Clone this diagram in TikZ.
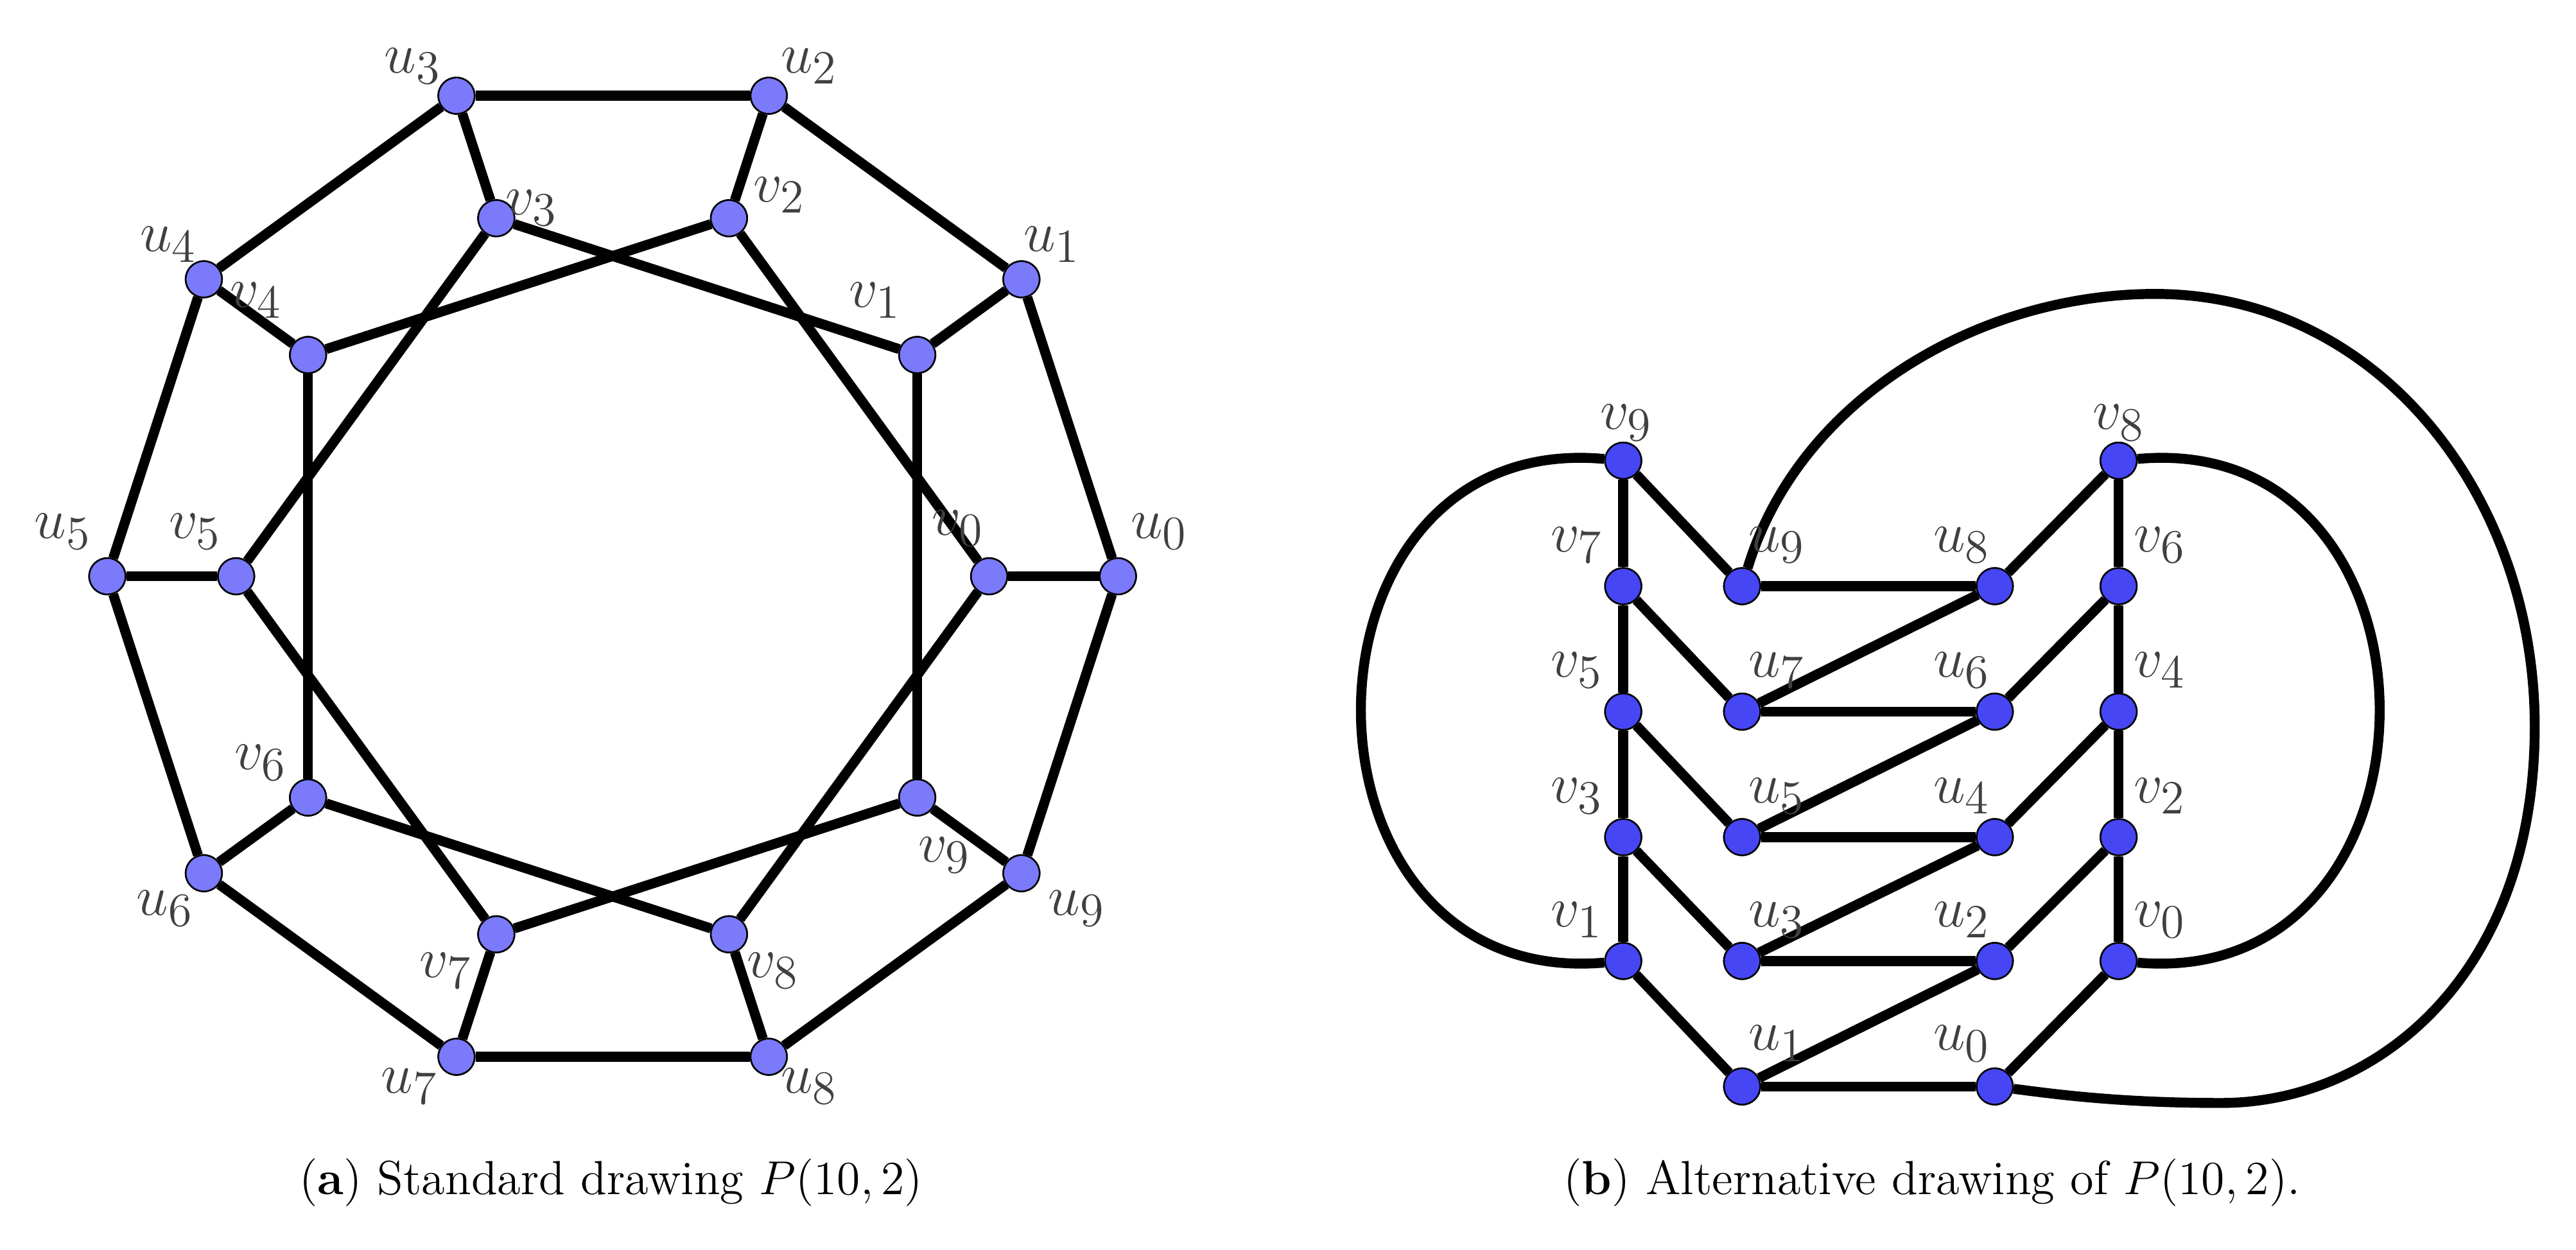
\documentclass[tikz,border=0pt]{standalone}
\begin{document}
\begin{tikzpicture}[x=0.5pt,y=-0.5pt,
  edge/.style={line width=3pt,line join=round},
  va/.style={circle,draw=black,line width=0.5pt,fill={rgb,255:red,122;green,122;blue,250},minimum size=11pt,inner sep=0pt},
  vb/.style={circle,draw=black,line width=0.5pt,fill={rgb,255:red,70;green,70;blue,245},minimum size=11pt,inner sep=0pt},
  lab/.style={text={rgb,255:red,64;green,64;blue,64},font=\fontsize{19}{21}\selectfont,inner sep=0pt},
  captxt/.style={font=\fontsize{14.5}{17}\selectfont}]
\useasboundingbox (0,0) rectangle (1560,757);
% (a)
\foreach \k in {0,...,9}{
  \node[va] (u\k) at ({371+306*cos(36*\k)},{349-306*sin(36*\k)}) {};
  \node[va] (v\k) at ({371+228*cos(36*\k)},{349-228*sin(36*\k)}) {};
}
\foreach \k [evaluate=\k as \n using {int(mod(\k+1,10))}, evaluate=\k as \m using {int(mod(\k+2,10))}] in {0,...,9}{
  \draw[edge] (u\k) -- (u\n);
  \draw[edge] (u\k) -- (v\k);
  \draw[edge] (v\k) -- (v\m);
}
\foreach \k in {0,...,9}{
  \node[va] at (u\k) {};
  \node[va] at (v\k) {};
}
\node[lab] (lu0) at (702,322) {$u_0$};
\node[lab] (lu1) at (637,148) {$u_1$};
\node[lab] (lu2) at (490,40) {$u_2$};
\node[lab] (lu3) at (250,40) {$u_3$};
\node[lab] (lu4) at (102,148) {$u_4$};
\node[lab] (lu5) at (38,322) {$u_5$};
\node[lab] (lu6) at (100,550) {$u_6$};
\node[lab] (lu7) at (248,658) {$u_7$};
\node[lab] (lu8) at (490,658) {$u_8$};
\node[lab] (lu9) at (652,550) {$u_9$};
\node[lab] (lv0) at (580,320) {$v_0$};
\node[lab] (lv1) at (530,182) {$v_1$};
\node[lab] (lv2) at (472,118) {$v_2$};
\node[lab] (lv3) at (322,126) {$v_3$};
\node[lab] (lv4) at (155,182) {$v_4$};
\node[lab] (lv5) at (118,322) {$v_5$};
\node[lab] (lv6) at (158,462) {$v_6$};
\node[lab] (lv7) at (270,588) {$v_7$};
\node[lab] (lv8) at (468,588) {$v_8$};
\node[lab] (lv9) at (572,518) {$v_9$};
\node[captxt] (capa) at (370,716) {(\textbf{a}) Standard drawing $P(10,2)$};
% (b)
\foreach \n/\y in {9/279,7/355,5/431,3/507,1/582}{\node[vb] (bv\n) at (983,\y) {};}
\foreach \n/\y in {8/279,6/355,4/431,2/507,0/582}{\node[vb] (bv\n) at (1283,\y) {};}
\foreach \n/\y in {9/355,7/431,5/507,3/582,1/658}{\node[vb] (bu\n) at (1055,\y) {};}
\foreach \n/\y in {8/355,6/431,4/507,2/582,0/658}{\node[vb] (bu\n) at (1208,\y) {};}
\draw[edge] (bv9)--(bv7)--(bv5)--(bv3)--(bv1);
\draw[edge] (bv8)--(bv6)--(bv4)--(bv2)--(bv0);
\foreach \a/\b in {9/8,7/6,5/4,3/2,1/0}{
  \draw[edge] (bv\a)--(bu\a);
  \draw[edge] (bu\a)--(bu\b);
  \draw[edge] (bu\b)--(bv\b);
}
\foreach \a/\b in {7/8,5/6,3/4,1/2}{\draw[edge] (bu\a)--(bu\b);}
\draw[edge] (bv9) .. controls (775,260) and (775,600) .. (bv1);
\draw[edge] (bv8) .. controls (1490,260) and (1490,600) .. (bv0);
\coordinate (top) at (1305,178);
\coordinate (rgt) at (1535,440);
\coordinate (bot) at (1345,668);
\draw[edge] (bu9) .. controls (1090,240) and (1200,178) .. (top)
  .. controls (1440,178) and (1535,300) .. (rgt)
  .. controls (1535,590) and (1440,668) .. (bot)
  .. controls (1280,668) and (1240,662) .. (bu0);
\foreach \n in {0,...,9}{\node[vb] at (bv\n) {}; \node[vb] at (bu\n) {};}
\node[lab] at (985,256) {$v_9$};
\node[lab] at (1283,256) {$v_8$};
\foreach \n/\y in {7/330,5/406,3/482,1/557}{\node[lab] at (955,\y) {$v_\n$};}
\foreach \n/\y in {6/330,4/406,2/482,0/557}{\node[lab] at (1308,\y) {$v_\n$};}
\foreach \n/\y in {9/330,7/406,5/482,3/557,1/632}{\node[lab] at (1076,\y) {$u_\n$};}
\foreach \n/\y in {8/330,6/406,4/482,2/557,0/632}{\node[lab] at (1188,\y) {$u_\n$};}
\node[captxt] (capb) at (1170,716) {(\textbf{b}) Alternative drawing of $P(10,2)$.};
\end{tikzpicture}
\end{document}
